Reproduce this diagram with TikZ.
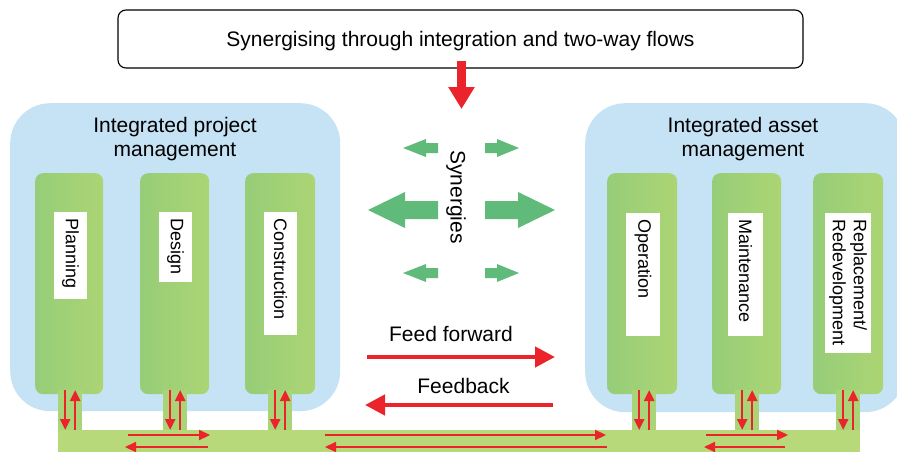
\documentclass[tikz,border=0pt]{standalone}
\usepackage{fontspec}
\setmainfont{Liberation Sans}
\usetikzlibrary{arrows.meta}
\definecolor{bluebg}{RGB}{197,227,245}
\definecolor{colgreenA}{RGB}{150,205,120}
\definecolor{colgreenB}{RGB}{172,213,116}
\definecolor{conngreen}{RGB}{170,212,120}
\definecolor{bargreen}{RGB}{184,217,122}
\definecolor{synred}{RGB}{234,36,42}
\definecolor{syngreen}{RGB}{96,186,122}
\begin{document}
\begin{tikzpicture}[x=1pt,y=-1pt,
  bigfont/.style={font=\fontsize{21}{24}\selectfont},
  labfont/.style={font=\fontsize{18}{21}\selectfont},
  bluebox/.style={fill=bluebg, draw=none, rounded corners=40pt, inner sep=0pt, anchor=north west},
  column/.style={left color=colgreenA, right color=colgreenB, draw=none, rounded corners=8pt, inner sep=0pt, anchor=north west, minimum height=221pt},
  connbox/.style={fill=conngreen, draw=none, inner sep=0pt, anchor=north west, minimum width=24pt, minimum height=40pt},
  labelbox/.style={fill=white, rotate=-90, anchor=west, labfont, inner xsep=6pt, inner ysep=0pt, align=left},
  bigred/.style={draw=synred, line width=4.5pt, -{Triangle[length=20pt,width=20pt]}},
  smallred/.style={draw=synred, line width=2.2pt, -{Triangle[length=11pt,width=10pt]}},
  synarrow/.style={fill=syngreen, draw=none},
]
\useasboundingbox (0,0) rectangle (897,452);

% title
\node[draw=black, line width=1.1pt, rounded corners=8pt, minimum width=685pt, minimum height=58pt,
      inner sep=0pt, bigfont, text height=15pt, text depth=0pt] (title) at (460.5,39)
      {Synergising through integration and two-way flows};

% blue groups
\node[bluebox, minimum width=330pt, minimum height=308pt] (ipm) at (10,103) {};
\node[bluebox, minimum width=320pt, minimum height=309pt] (iam) at (585,103) {};
\node[bigfont, align=center] (ipmtitle) at (175,139) {Integrated project\\management};
\node[bigfont, align=center] (iamtitle) at (743,139) {Integrated asset\\management};

% columns
\node[column, minimum width=68pt] (plan) at (35,173) {};
\node[column, minimum width=69pt] (design) at (140,173) {};
\node[column, minimum width=70pt] (constr) at (245,173) {};
\node[column, minimum width=70pt] (oper) at (607,173) {};
\node[column, minimum width=69pt] (maint) at (712,173) {};
\node[column, minimum width=70pt] (repl) at (813,173) {};

% connectors to bar
\node[connbox] (planc) at (58,390) {};
\node[connbox] (designc) at (163,390) {};
\node[connbox] (constrc) at (268,390) {};
\node[connbox] (operc) at (632,390) {};
\node[connbox] (maintc) at (735,390) {};
\node[connbox] (replc) at (836,390) {};

% bottom bar
\node[fill=bargreen, draw=none, inner sep=0pt, anchor=north west, minimum width=802pt, minimum height=26pt] (bar) at (58,430) {};

% labels
\node[labelbox, minimum width=87pt, minimum height=33pt, text width=75pt] (planl) at (70.5,212) {Planning};
\node[labelbox, minimum width=70pt, minimum height=33pt, text width=58pt] (designl) at (175.5,212) {Design};
\node[labelbox, minimum width=123pt, minimum height=33pt, text width=111pt] (constrl) at (280.5,212) {Construction};
\node[labelbox, minimum width=123pt, minimum height=34pt, text width=111pt] (operl) at (643,213) {Operation};
\node[labelbox, minimum width=123pt, minimum height=35pt, text width=111pt] (maintl) at (745.5,213) {Maintenance};
\node[labelbox, minimum width=140pt, minimum height=46pt, text width=128pt] (repll) at (848,213) {Replacement/\\Redevelopment};

% synergies
\node[bigfont, rotate=-90] (syn) at (456,197) {Synergies};
\fill[synarrow] (438,201) -- (405,201) -- (405,192) -- (368,210) -- (405,228) -- (405,219) -- (438,219) -- cycle;
\fill[synarrow] (485,201) -- (518,201) -- (518,192) -- (555,210) -- (518,228) -- (518,219) -- (485,219) -- cycle;
\foreach \yy in {148,273} {
  \fill[synarrow] (438,\yy-5) -- (426,\yy-5) -- (426,\yy-9) -- (403,\yy) -- (426,\yy+9) -- (426,\yy+5) -- (438,\yy+5) -- cycle;
  \fill[synarrow] (485,\yy-5) -- (497,\yy-5) -- (497,\yy-9) -- (519,\yy) -- (497,\yy+9) -- (497,\yy+5) -- (485,\yy+5) -- cycle;
}

% top arrow
\coordinate (topend) at (461.5,109);
\draw[draw=synred, line width=9pt, -{Triangle[length=22pt,width=25pt]}] ([xshift=1pt,yshift=8pt]title.south) -- (topend);

% feed forward / feedback
\node[bigfont, anchor=base] (fftext) at (451,341) {Feed forward};
\node[bigfont, anchor=base] (fbtext) at (463.5,393) {Feedback};
\coordinate (ffs) at (367,357);
\coordinate (ffe) at (555,357);
\coordinate (fbs) at (553,405);
\coordinate (fbe) at (365,405);
\draw[bigred] (ffs) -- (ffe);
\draw[bigred] (fbs) -- (fbe);

% vertical two-way arrows
\foreach \c in {planc,designc,constrc,operc,maintc,replc} {
  \draw[smallred] ([xshift=-5pt]\c.north) -- ([xshift=-5pt]\c.north |- bar.north);
  \draw[smallred] ([xshift=5pt]\c.north |- bar.north) -- ([xshift=5pt]\c.north);
}

% horizontal two-way arrows in bar
\coordinate (h1a) at (128,435); \coordinate (h1b) at (210,435);
\coordinate (h2a) at (208,447); \coordinate (h2b) at (125,447);
\coordinate (h3a) at (325,435); \coordinate (h3b) at (606,435);
\coordinate (h4a) at (607,447); \coordinate (h4b) at (325,447);
\coordinate (h5a) at (706,435); \coordinate (h5b) at (788,435);
\coordinate (h6a) at (785,447); \coordinate (h6b) at (704,447);
\draw[smallred] (h1a) -- (h1b);
\draw[smallred] (h2a) -- (h2b);
\draw[smallred] (h3a) -- (h3b);
\draw[smallred] (h4a) -- (h4b);
\draw[smallred] (h5a) -- (h5b);
\draw[smallred] (h6a) -- (h6b);
\end{tikzpicture}
\end{document}
